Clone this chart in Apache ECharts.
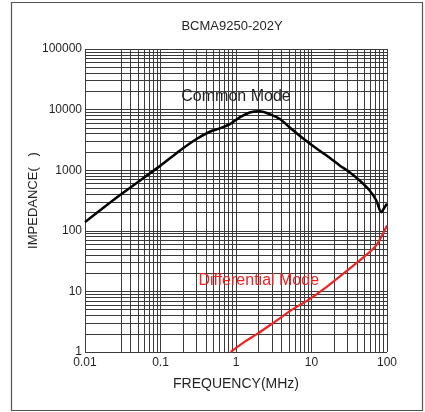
<!DOCTYPE html>
<html>
<head>
<meta charset="utf-8">
<script src="https://cdn.jsdelivr.net/npm/echarts@6/dist/echarts.min.js"></script>
<style>html,body{margin:0;padding:0;background:#fff;}#c{width:425px;height:412px;}</style>
</head>
<body>
<div id="c"></div>
<script>
var title = 'BCMA9250-202Y';
var xName = 'FREQUENCY(MHz)';
var yName = 'IMPEDANCE(   )';
var commonLabel = 'Common Mode';
var diffLabel = 'Differential Mode';

var commonFreq = [0.01, 0.03, 0.1, 0.18, 0.3, 0.45, 0.61, 0.83, 1.12, 1.52, 2.06, 2.8, 3.8, 5.15, 6.98, 9.46, 12.8, 17.4, 23.6, 32, 43.4, 58.9, 72.2, 84.1, 93, 100];
var commonZ    = [139, 400, 1190, 2100, 3270, 4310, 4890, 5770, 7420, 8960, 9400, 8430, 6980, 5080, 3710, 2770, 2100, 1600, 1200, 925, 675, 462, 316, 203, 245, 279];

var diffFreq = [0.85, 1.31, 1.96, 3.26, 5.42, 8.99, 14.96, 24.9, 41.2, 55.8, 72.1, 88.3, 100];
var diffZ    = [1.0, 1.48, 2.03, 3.15, 4.91, 7.17, 11.2, 18.5, 30.6, 42, 57.5, 89.6, 122];

var xTickValues = [0.01, 0.1, 1, 10, 100];
var yTickValues = [1, 10, 100, 1000, 10000, 100000];
var xMinorGrid = [0.03,0.04,0.05,0.06,0.07,0.08,0.09,
                  0.2,0.3,0.4,0.5,0.6,0.7,0.8,0.9,
                  2,3,4,5,6,7,8,9,
                  20,30,40,50,60,70,80,90];
var yMinorGrid = [2,3,4,5,6,7,8,9,
                  20,30,40,50,60,70,80,90,
                  200,300,400,500,600,700,800,900,
                  2000,3000,4000,5000,6000,7000,8000,9000,
                  20000,30000,40000,50000,60000,70000,80000,90000];

var commonLabelAt = [1.0, 16200];
var diffLabelAt = [2.0, 15.3];

function zip(a, b) { return a.map(function (v, i) { return [v, b[i]]; }); }

var gridMarks = [];
xMinorGrid.forEach(function (v) { gridMarks.push({ xAxis: v }); });
yMinorGrid.forEach(function (v) { gridMarks.push({ yAxis: v }); });
xTickValues.forEach(function (v) { gridMarks.push({ xAxis: v }); });
yTickValues.forEach(function (v) { gridMarks.push({ yAxis: v }); });

function fmt(v) { return String(+(+v).toPrecision(6)); }

var FONT = 'Liberation Sans';
var chart = echarts.init(document.getElementById('c'), null, { renderer: 'canvas' });
chart.setOption({
  animation: false,
  backgroundColor: '#fff',
  title: {
    text: title, left: 227, top: 15, textAlign: 'center',
    textStyle: { fontFamily: FONT, fontSize: 13, fontWeight: 'normal', color: '#231f20' }
  },
  grid: { left: 85, right: 38, top: 49, bottom: 60, containLabel: false },
  xAxis: {
    type: 'log', logBase: 10, min: 0.01, max: 100,
    name: xName, nameLocation: 'middle', nameGap: 25, nameMoveOverlap: false,
    nameTextStyle: { fontFamily: FONT, fontSize: 14, color: '#231f20' },
    axisLine: { show: false }, axisTick: { show: false },
    splitLine: { show: false }, minorSplitLine: { show: false },
    axisLabel: { formatter: fmt, fontFamily: FONT, fontSize: 12, color: '#231f20', margin: 5, showMinLabel: true, showMaxLabel: true }
  },
  yAxis: {
    type: 'log', logBase: 10, min: 1, max: 100000,
    name: yName, nameLocation: 'middle', nameGap: 45, nameRotate: 90, nameMoveOverlap: false,
    nameTextStyle: { fontFamily: FONT, fontSize: 13, color: '#231f20' },
    axisLine: { show: false }, axisTick: { show: false },
    splitLine: { show: false },
    axisLabel: { formatter: fmt, fontFamily: FONT, fontSize: 12, color: '#231f20', margin: 3 }
  },
  series: [
    {
      type: 'line', data: [], silent: true,
      markLine: {
        silent: true, symbol: 'none', animation: false,
        label: { show: false },
        lineStyle: { color: '#3a3a3a', width: 1, type: 'solid' },
        emphasis: { disabled: true },
        data: gridMarks
      }
    },
    {
      name: commonLabel, type: 'line', data: zip(commonFreq, commonZ),
      smooth: 0.3, showSymbol: false, symbol: 'none',
      lineStyle: { color: '#000', width: 2.5 }, z: 5
    },
    {
      name: diffLabel, type: 'line', data: zip(diffFreq, diffZ),
      smooth: 0.3, showSymbol: false, symbol: 'none',
      lineStyle: { color: '#ee2424', width: 2.2 }, z: 5
    }
  ]
});

var pc = chart.convertToPixel({ gridIndex: 0 }, commonLabelAt);
var pd = chart.convertToPixel({ gridIndex: 0 }, diffLabelAt);
chart.setOption({
  graphic: [
    { type: 'rect', shape: { x: 11.5, y: 2.5, width: 411, height: 408 },
      style: { fill: 'none', stroke: '#555', lineWidth: 1.2 }, silent: true, z: -1 },
    { type: 'text', x: pc[0], y: pc[1], z: 10,
      style: { text: commonLabel, fontFamily: FONT, fontSize: 16, fill: '#231f20', align: 'center', verticalAlign: 'middle' } },
    { type: 'text', x: pd[0], y: pd[1], z: 10,
      style: { text: diffLabel, fontFamily: FONT, fontSize: 16, fill: '#ee2424', align: 'center', verticalAlign: 'middle' } }
  ]
});
</script>
</body>
</html>
